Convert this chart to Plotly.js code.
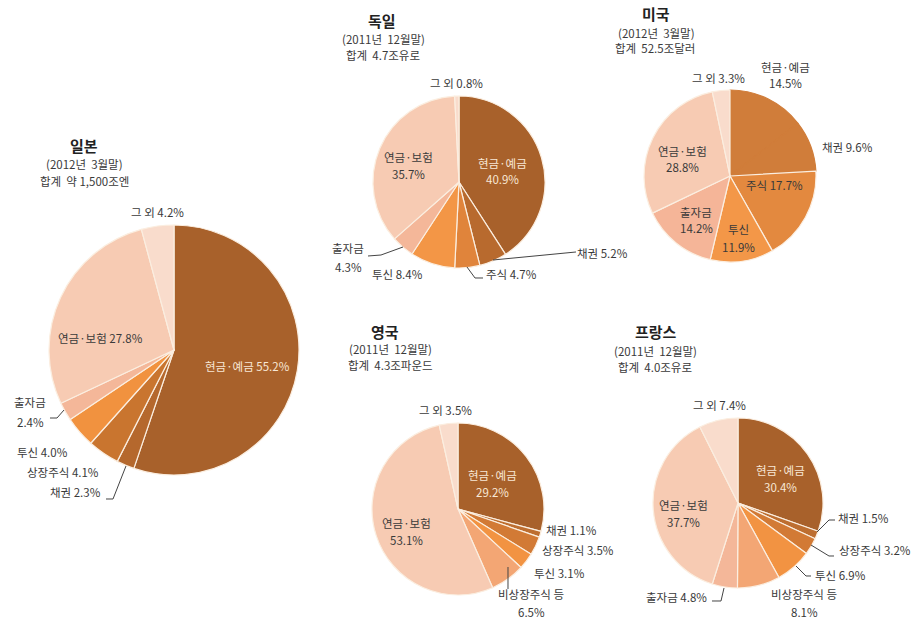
<!DOCTYPE html>
<html>
<head>
<meta charset="utf-8">
<script src="https://cdn.plot.ly/plotly-3.0.1.min.js"></script>
<style>html,body{margin:0;padding:0;background:#fff;}#chart{width:915px;height:627px;}</style>
</head>
<body>
<div id="chart"></div>
<script>
// ---------------- DATA ----------------
const jpLabels = ['현금·예금','채권','상장주식','투신','출자금','연금·보험','그 외'];
const jpValues = [55.2, 2.3, 4.1, 4.0, 2.4, 27.8, 4.2];

const deLabels = ['현금·예금','채권','주식','투신','출자금','연금·보험','그 외'];
const deValues = [40.9, 5.2, 4.7, 8.4, 4.3, 35.7, 0.8];

const usLabels = ['현금·예금','채권','주식','투신','출자금','연금·보험','그 외'];
const usValues = [14.5, 9.6, 17.7, 11.9, 14.2, 28.8, 3.3];

const ukLabels = ['현금·예금','채권','상장주식','투신','비상장주식 등','연금·보험','그 외'];
const ukValues = [29.2, 1.1, 3.5, 3.1, 6.5, 53.1, 3.5];

const frLabels = ['현금·예금','채권','상장주식','투신','비상장주식 등','출자금','연금·보험','그 외'];
const frValues = [30.4, 1.5, 3.2, 6.9, 8.1, 4.8, 37.7, 7.4];

const countryNames = ['일본','독일','미국','영국','프랑스'];
const countryDates = ['(2012년  3월말)','(2011년  12월말)','(2012년  3월말)','(2011년  12월말)','(2011년  12월말)'];
const countryTotals = ['합계  약 1,500조엔','합계  4.7조유로','합계  52.5조달러','합계  4.3조파운드','합계  4.0조유로'];

// ---------------- LAYOUT / STYLE ----------------
const W = 915, H = 627;
const FONT = '"Noto Sans CJK KR", "Noto Sans", sans-serif';
const TXT = '#3a3a3a';
const LIGHT = '#fbeee0';
const X = p => p / W;
const Y = p => 1 - p / H;
function dom(cx, cy, r) {
  return {x: [(cx - r) / W, (cx + r) / W], y: [1 - (cy + r) / H, 1 - (cy - r) / H]};
}

const C = {
  cash: '#a8612b', bond: '#b5682d', stock: '#c9752f', fund: '#f1923f',
  unlisted: '#f3a674', equity: '#f4b799', pension: '#f7cbb3', other: '#f9dccc'
};

const US_CASH = '#d07d3a';
const pies = [
  {labels: jpLabels, values: jpValues, cx: 174, cy: 350, r: 125,
   colors: [C.cash, C.bond, C.stock, C.fund, C.equity, C.pension, C.other]},
  {labels: deLabels, values: deValues, cx: 459, cy: 182, r: 86,
   colors: [C.cash, '#b86a2e', '#e0843b', '#f39646', C.equity, C.pension, C.other]},
  {labels: usLabels, values: usValues, cx: 730, cy: 176, r: 86,
   colors: [US_CASH, US_CASH, '#e3893f', '#f39748', '#f5b598', C.pension, C.other],
   lc: [US_CASH, US_CASH, LIGHT, LIGHT, LIGHT, LIGHT, LIGHT]},
  {labels: ukLabels, values: ukValues, cx: 458, cy: 509, r: 86,
   colors: [C.cash, '#bd6e30', '#d27a35', '#f29342', C.unlisted, C.pension, C.other]},
  {labels: frLabels, values: frValues, cx: 738, cy: 503, r: 85,
   colors: [C.cash, '#bd6e30', '#d27a35', '#f29342', C.unlisted, C.equity, C.pension, C.other]}
];

const data = pies.map(p => ({
  type: 'pie', labels: p.labels, values: p.values, sort: false,
  direction: 'clockwise', rotation: 0, textinfo: 'none', hoverinfo: 'label+percent',
  domain: dom(p.cx, p.cy, p.r), showlegend: false,
  marker: {colors: p.colors, line: {color: p.lc || LIGHT, width: 1.2}}
}));

// label placement: [pieIndex, sliceIndex, x, y, twoLine?, lineGap, white?]
const labelPos = [
  [0,0,248,366,false,0,true],[0,1,75,492],[0,2,63,472],[0,3,42,452],[0,4,30,412,true,20],[0,5,100,338],[0,6,157,212],
  [1,0,502,171,true,17,true],[1,1,602,253],[1,2,511,274],[1,3,397,274],[1,4,348,257,true,19],[1,5,408,165,true,17],[1,6,456,83],
  [2,0,785,75,true,16],[2,1,847,147],[2,2,774,185],[2,3,738,238,true,17],[2,4,696,220,true,16],[2,5,682,159,true,16],[2,6,718,78],
  [3,0,492,483,true,17,true],[3,1,571,530],[3,2,578,550],[3,3,559,573],[3,4,531,603,true,18],[3,5,406,531,true,17],[3,6,445,410],
  [4,0,780,478,true,17,true],[4,1,863,518],[4,2,875,550],[4,3,840,575],[4,4,804,603,true,18],[4,5,676,597],[4,6,683,513,true,17],[4,7,719,405]
];

const annotations = [];
labelPos.forEach(s => {
  const [pi, si, x, y, two, gap, white] = s;
  const p = pies[pi];
  const lab = p.labels[si], val = p.values[si].toFixed(1) + '%';
  const font = {family: FONT, size: 11.5, color: white ? '#f8e8d6' : TXT};
  if (two) {
    annotations.push({x: X(x), y: Y(y - gap / 2), xref: 'paper', yref: 'paper', text: lab, showarrow: false, font, xanchor: 'center', yanchor: 'middle'});
    annotations.push({x: X(x), y: Y(y + gap / 2), xref: 'paper', yref: 'paper', text: val, showarrow: false, font, xanchor: 'center', yanchor: 'middle'});
  } else {
    annotations.push({x: X(x), y: Y(y), xref: 'paper', yref: 'paper', text: lab + ' ' + val, showarrow: false, font, xanchor: 'center', yanchor: 'middle'});
  }
});

// titles
const titlePos = [[84,145,84,164,84,181],[382,20,383,39,383,55],[656,14,656,33,655,48],[385,331,390,349,390,365],[656,331,655,351,655,367]];
titlePos.forEach((t, i) => {
  annotations.push({x: X(t[0]), y: Y(t[1]), xref: 'paper', yref: 'paper', text: '<b>' + countryNames[i] + '</b>', showarrow: false,
    font: {family: FONT, size: 15, color: '#222'}, xanchor: 'center', yanchor: 'middle'});
  annotations.push({x: X(t[2]), y: Y(t[3]), xref: 'paper', yref: 'paper', text: countryDates[i], showarrow: false,
    font: {family: FONT, size: 11.5, color: TXT}, xanchor: 'center', yanchor: 'middle'});
  annotations.push({x: X(t[4]), y: Y(t[5]), xref: 'paper', yref: 'paper', text: countryTotals[i], showarrow: false,
    font: {family: FONT, size: 11.5, color: TXT}, xanchor: 'center', yanchor: 'middle'});
});

// leader lines (pixel polylines)
const leaders = [
  [[50,418],[57,418],[64,410]],            // JP 출자금
  [[106,499],[113,499],[126,466]],         // JP 채권
  [[368,256],[381,255],[403,247]],         // DE 출자금
  [[483,278],[475,278],[467,267]],         // DE 주식
  [[576,252],[493,260]],                   // DE 채권
  [[508,567],[508,589]],                   // UK 비상장
  [[835,520],[829,520],[817,532]],         // FR 채권
  [[834,556],[829,556],[811,545]],         // FR 상장주식
  [[811,576],[806,576],[796,566]],         // FR 투신
  [[712,601],[721,601],[724,588]]          // FR 출자금
];
const shapes = leaders.map(pts => ({
  type: 'path', xref: 'paper', yref: 'paper',
  path: pts.map((q, k) => (k ? 'L' : 'M') + X(q[0]).toFixed(5) + ',' + Y(q[1]).toFixed(5)).join(' '),
  line: {color: '#444', width: 1}
}));

const layout = {
  width: W, height: H, margin: {l: 0, r: 0, t: 0, b: 0},
  paper_bgcolor: '#ffffff', plot_bgcolor: '#ffffff',
  font: {family: FONT, color: TXT},
  annotations, shapes, showlegend: false
};
Plotly.newPlot('chart', data, layout, {displayModeBar: false, staticPlot: true});
</script>
</body>
</html>
